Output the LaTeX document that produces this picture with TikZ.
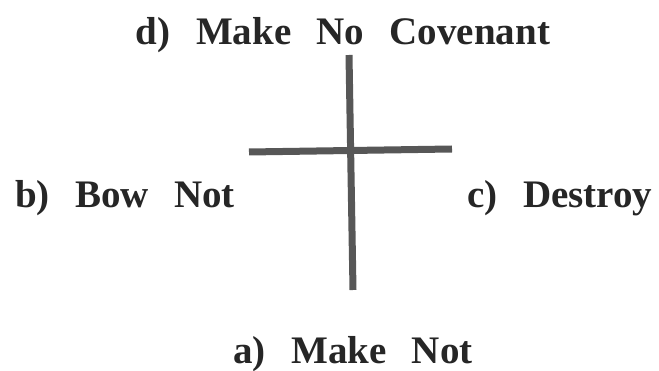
\documentclass[tikz,border=0pt]{standalone}
\usepackage{fontspec}
\setmainfont{Liberation Serif}[WordSpace=2.6]
\definecolor{ink}{HTML}{262626}
\definecolor{beam}{HTML}{575757}

\begin{document}
\begin{tikzpicture}[
  x=1pt,
  y=-1pt,
  label/.style={inner sep=0pt,anchor=base,text=ink,
    font=\fontsize{39}{44}\selectfont\bfseries},
  bar/.style={draw=beam,line width=7pt}
]
\useasboundingbox (0,0) rectangle (659,371);

% the four labels
\node[label] (cov) at (343,45) {d) Make No Covenant};
\node[label] (bow) at (125,208) {b) Bow Not};
\node[label] (des) at (560,208) {c) Destroy};
\node[label] (mak) at (353,363) {a) Make Not};

% the cross
\coordinate (up) at (349,55);
\coordinate (down) at (353,290);
\coordinate (left) at (249,152);
\coordinate (right) at (452,149);
\draw[bar] (up) -- (down);
\draw[bar] (left) -- (right);
\end{tikzpicture}
\end{document}
